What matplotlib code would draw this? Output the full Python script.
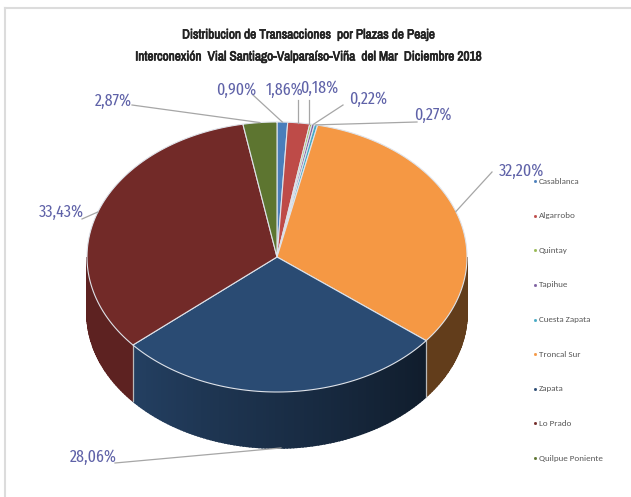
import numpy as np
import matplotlib
matplotlib.use('Agg')
import matplotlib.pyplot as plt
import matplotlib.patheffects as pe
from matplotlib.colors import to_rgb

plazas = ['Casablanca', 'Algarrobo', 'Quintay', 'Tapihue', 'Cuesta Zapata',
          'Troncal Sur', 'Zapata', 'Lo Prado', 'Quilpue Poniente']
shares = [0.90, 1.86, 0.18, 0.22, 0.27, 32.20, 28.06, 33.43, 2.87]
share_labels = ['0,90%', '1,86%', '0,18%', '0,22%', '0,27%', '32,20%', '28,06%', '33,43%', '2,87%']
colors = ['#4a7ebb', '#be4b48', '#98b954', '#7d60a0', '#46aac5', '#f59844', '#2a4b73', '#722a28', '#5d7530']

title_font = ['Archivo Narrow', 'Liberation Sans']
label_font = ['Fira Sans Extra Condensed', 'Liberation Sans']
legend_font = ['Carlito', 'Liberation Sans']

cx, cy, rx, ry, depth = 277, 257, 190, 135, 56


def rim(t):
    return cx + rx * np.sin(t), cy - ry * np.cos(t)


fig = plt.figure(figsize=(6.31, 4.97), dpi=100)
ax = fig.add_axes([0, 0, 1, 1])
ax.set_xlim(0, 631)
ax.set_ylim(497, 0)
ax.axis('off')

# frame of the pasted picture
ax.plot([5, 631], [7.5, 7.5], color='#dcdcdc', lw=1.5)
ax.plot([5, 5], [7.5, 497], color='#dcdcdc', lw=1.5)

edges = np.cumsum([0] + shares) / sum(shares) * 2 * np.pi

# side wall, only the front half shows
for i, col in enumerate(colors):
    a, b = max(edges[i], np.pi / 2), min(edges[i + 1], 3 * np.pi / 2)
    if b <= a:
        continue
    ts = np.linspace(a, b, int((b - a) * 60) + 2)
    base = np.array(to_rgb(col))
    for t0, t1 in zip(ts[:-1], ts[1:]):
        x0, y0 = rim(t0)
        x1, y1 = rim(t1)
        if i == 6:
            # zapata wall fades to near black on its right end
            shade = 0.38 + 0.47 * (t0 - a) / (b - a)
        elif i == 5:
            shade = 0.40
        else:
            shade = 0.82
        c = tuple(base * shade)
        ax.fill([x0, x1, x1, x0], [y0, y1, y1 + depth, y0 + depth],
                facecolor=c, edgecolor=c, lw=1.2, zorder=2)

# seams where the wall colours change
for t in (edges[6], edges[7]):
    x0, y0 = rim(t)
    ax.plot([x0, x0], [y0, y0 + depth], color='#b9b9b9', lw=0.9, zorder=2.5)

# top face
for i, col in enumerate(colors):
    ts = np.linspace(edges[i], edges[i + 1], 80)
    xs, ys = rim(ts)
    ax.fill(np.r_[cx, xs], np.r_[cy, ys], facecolor=col, edgecolor='#dfe3ea', lw=0.8, zorder=3)

# data labels and leader lines
label_pos = [(236, 90), (285, 90), (319, 88), (368, 99), (433, 115),
             (522, 171), (93, 457), (61, 212), (113, 101)]
leader_start = [(253, 95), (298, 100), (309, 100), (343, 105), (417, 122),
                (492, 172), (115, 463), (82, 219), (132, 105)]
for i, lab in enumerate(share_labels):
    mid = (edges[i] + edges[i + 1]) / 2
    px, py = rim(mid)
    if i == 6:
        py = py + depth
    sx, sy = leader_start[i]
    if i == 1 or i == 2:
        px = sx
    ax.plot([sx, px], [sy, py], color='#a6a6a6', lw=0.9, zorder=4)
    lx, ly = label_pos[i]
    ax.text(lx, ly, lab, color='#5f62a8', fontsize=12.5, family=label_font, ha='center', va='center', zorder=5)

# legend
legend_y = np.linspace(181, 458, len(plazas))
for name, col, y in zip(plazas, colors, legend_y):
    ax.plot(534.5, y, marker='s', ms=1.0, color=col, zorder=5)
    ax.text(539, y, name, color='#595959', fontsize=6.5, family=legend_font, ha='left', va='center', zorder=5)

# the narrow face has no bold cut, a thin stroke thickens it
bold = [pe.withStroke(linewidth=0.5, foreground='#222222')]
ax.text(308, 35, 'Distribucion de Transacciones  por Plazas de Peaje', color='#222222',
        fontsize=9.6, family=title_font, ha='center', va='center', path_effects=bold)
ax.text(308, 57, 'Interconexión  Vial Santiago-Valparaíso-Viña  del Mar  Diciembre 2018', color='#222222',
        fontsize=9.6, family=title_font, ha='center', va='center', path_effects=bold)

fig.savefig('out.png', dpi=100)
